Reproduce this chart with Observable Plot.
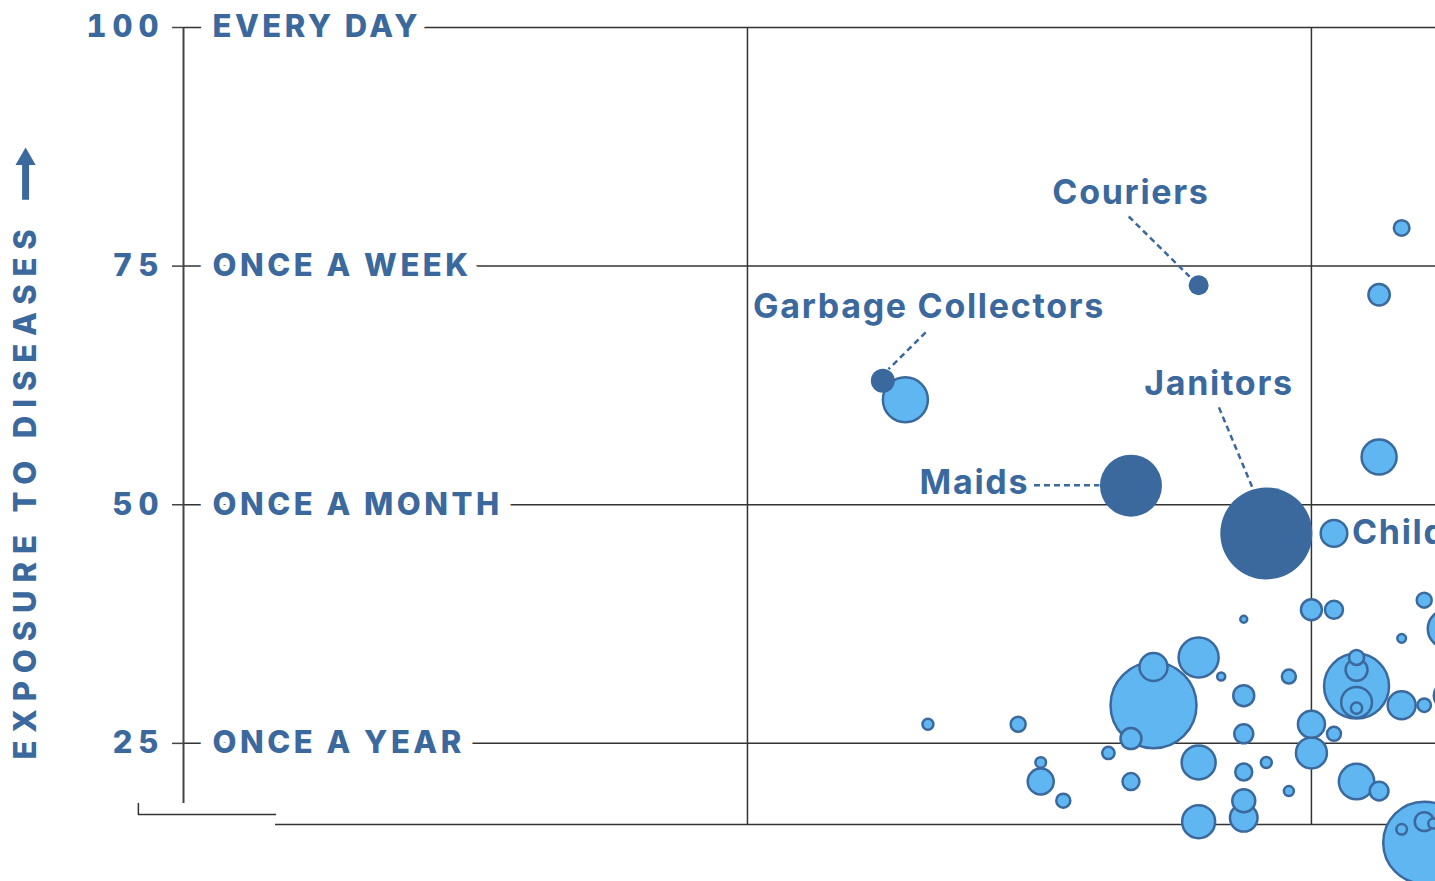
<!DOCTYPE html>
<html><head><meta charset="utf-8">
<script src="https://cdn.jsdelivr.net/npm/d3@7"></script>
<script src="https://cdn.jsdelivr.net/npm/@observablehq/plot@0.6"></script>
<style>
html,body{margin:0;padding:0;background:#fff;overflow:hidden;}
#chart svg{display:block;}
g[aria-label="y-axis tick label"] text{letter-spacing:6px;}
</style></head><body><div id="chart"></div>
<script>
// Y levels (exposure to diseases)
const yLevels = [100, 75, 50, 25];
const yLevelNames = ["EVERY DAY", "ONCE A WEEK", "ONCE A MONTH", "ONCE A YEAR"];
const yTitle = "EXPOSURE TO DISEASES";
const xGrid = [50, 75];

// Light bubbles: x (proximity), y (exposure), size (workers, thousands)
const lightX = [58,62,68,68,67,70,71,72,72,72,74,75,76,75,76,75,77,77,77,77,77,79,80,80,79,81,81,63,63,64,66,67,70,70,72,72,72,73,74,77,78,80,80,79,80.4,79,78,78,76,57];
const lightY = [27,27,29,33,25.5,34,32,38,30,26,32,39,39,27,26,24,31,34,32.7,29.3,28.7,29,29,40,36,37,30,23,21,19,24,21,23,16.8,22,19,17.2,23,20,21,20,14.6,16.8,16,16.6,79,72,55,47,61];
const lightSize = [30,56,1849,196,110,400,16,12,110,90,49,110,81,182,49,240,1056,56,121,237,32,196,45,56,19,361,169,28,169,49,38,72,289,272,72,132,190,30,25,313,88,1681,90,28,25,61,114,306,177,506];

// Highlighted occupations
const darkNames = ["Couriers", "Garbage Collectors", "Maids", "Janitors"];
const darkX = [70, 56, 67, 73];
const darkY = [73, 63, 52, 47];
const darkSize = [100, 144, 961, 2116];

// Annotation label positions and leader lines (data units)
const annoLabelX = [67.0, 58.05, 60.06, 70.9];
const annoLabelY = [82.6, 70.7, 52.3, 62.6];
const leadX1 = [66.9, 57.9, 62.7, 70.9];
const leadY1 = [80.2, 68.05, 52.05, 60.2];
const leadX2 = [69.6, 56.25, 65.6, 72.4];
const leadY2 = [73.9, 64.2, 52.05, 51.7];

// Childcare label (attached to light bubble)
const childName = ["Childcare Workers"];
const childX = [76];
const childY = [47];

const blue = "#3b699d";
const light = "#5fb6f1";
const grid = "#333";

const lightData = lightX.map((x, i) => ({x, y: lightY[i], v: lightSize[i]}));
const darkData = darkNames.map((n, i) => ({name: n, x: darkX[i], y: darkY[i], v: darkSize[i]}));
const annoData = darkNames.map((n, i) => ({name: n, lx: annoLabelX[i], ly: annoLabelY[i], x1: leadX1[i], y1: leadY1[i], x2: leadX2[i], y2: leadY2[i]}));
const childData = childName.map((n, i) => ({name: n, x: childX[i], y: childY[i]}));

const chart = Plot.plot({
  width: 1435, height: 881,
  marginLeft: 183, marginRight: 0, marginTop: 27, marginBottom: 57,
  x: {domain: [25, 80.5], axis: null},
  y: {domain: [16.5, 100], axis: null},
  r: {type: "sqrt", domain: [0, 2500], range: [0, 50]},
  style: {fontFamily: "Inter, 'Open Sans', sans-serif", background: "#fff", overflow: "hidden"},
  marks: [
    Plot.ruleY(yLevels, {stroke: grid, strokeWidth: 1.5}),
    Plot.ruleX(xGrid, {stroke: grid, strokeWidth: 1.5}),
    Plot.ruleX([25], {y1: 18.7, y2: 100, stroke: "#444", strokeWidth: 2}),
    Plot.ruleY([16.5], {x1: 29.08, x2: 80.5, stroke: grid, strokeWidth: 1.5}),
    Plot.line([{x: 23, y: 18.7}, {x: 23, y: 17.56}, {x: 29.08, y: 17.56}], {x: "x", y: "y", stroke: grid, strokeWidth: 1.5}),
    Plot.axisY(yLevels, {anchor: "left", tickSize: 11, tickPadding: 8, fontSize: 31, fontWeight: 800, fill: blue, stroke: "#444", strokeWidth: 1.5, label: null}),
    Plot.text(yLevels, {x: 25, y: d => d, text: (d, i) => yLevelNames[i], textAnchor: "start", dx: 29, fontSize: 31, fontWeight: 800, fill: blue, stroke: "white", strokeWidth: 26, strokeLinejoin: "round"}),
    Plot.text([yTitle], {x: 18, y: 51.5, text: d => d, rotate: -90, fontSize: 31, fontWeight: 800, fill: blue}),
    Plot.ruleX([18], {y1: 81.9, y2: 85.8, stroke: blue, strokeWidth: 7}),
    Plot.dot([18], {x: d => d, y: 86.2, symbol: "triangle", r: 7.5, fill: blue, stroke: null}),
    Plot.dot(lightData, {x: "x", y: "y", r: "v", fill: light, stroke: blue, strokeWidth: 2.5}),
    Plot.dot(darkData, {x: "x", y: "y", r: "v", fill: blue, stroke: null}),
    Plot.link(annoData, {x1: "x1", y1: "y1", x2: "x2", y2: "y2", stroke: blue, strokeWidth: 2.5, strokeDasharray: "6,4"}),
    Plot.text(annoData, {x: "lx", y: "ly", text: "name", fontSize: 34, fontWeight: 700, fill: blue}),
    Plot.text(childData, {x: "x", y: "y", text: "name", dx: 18, textAnchor: "start", fontSize: 34, fontWeight: 700, fill: blue})
  ]
});
const spacing = (names, px) => d3.select(chart).selectAll("text")
  .filter(function() { return names.includes(this.textContent); })
  .style("letter-spacing", px);
spacing(yLevelNames, "3.5px");
spacing([yTitle], "7.9px");
spacing(darkNames.concat(childName), "1.7px");
document.getElementById("chart").appendChild(chart);
</script>
</body></html>
